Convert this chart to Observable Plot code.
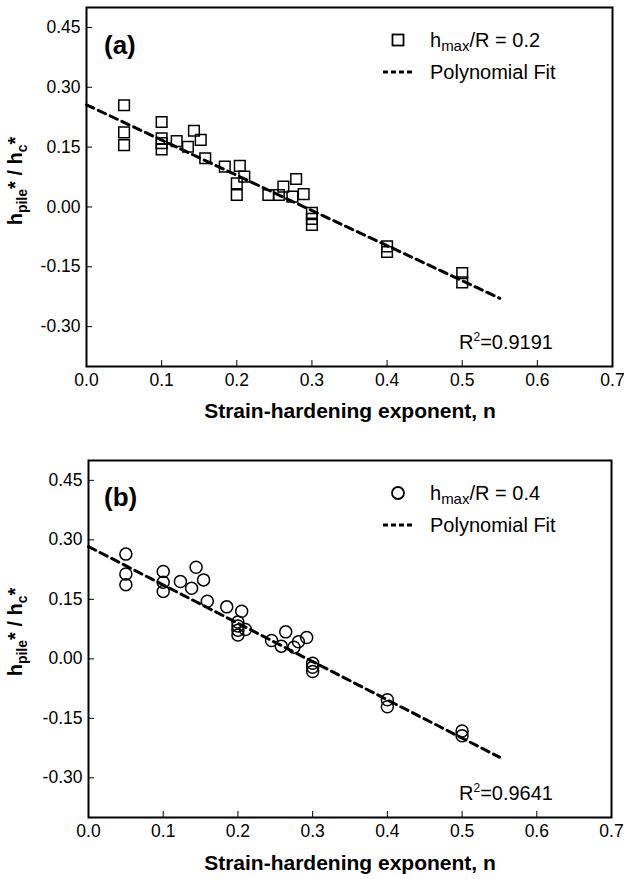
<!DOCTYPE html>
<html><head><meta charset="utf-8">
<script src="https://cdn.jsdelivr.net/npm/d3@7"></script>
<script src="https://cdn.jsdelivr.net/npm/@observablehq/plot@0.6"></script>
<style>
body{margin:0;background:#fff;}
#chart{width:624px;}
#chart svg{display:block;}
</style></head><body><div id="chart"></div>
<script>
const xTicks = [0, 0.1, 0.2, 0.3, 0.4, 0.5, 0.6, 0.7];
const yTicks = [-0.30, -0.15, 0.00, 0.15, 0.30, 0.45];

// Panel (a): hmax/R = 0.2
const nA = [0.05, 0.05, 0.05, 0.10, 0.10, 0.10, 0.10, 0.12, 0.135, 0.143, 0.152, 0.158, 0.184, 0.204, 0.21, 0.20, 0.20,
            0.242, 0.256, 0.262, 0.279, 0.274, 0.289, 0.30, 0.30, 0.30, 0.40, 0.40, 0.50, 0.50];
const vA = [0.255, 0.187, 0.155, 0.213, 0.172, 0.160, 0.144, 0.165, 0.151, 0.191, 0.168, 0.122, 0.101, 0.103, 0.076, 0.059, 0.030,
            0.030, 0.030, 0.051, 0.070, 0.026, 0.032, -0.015, -0.030, -0.045, -0.099, -0.113, -0.166, -0.189];
const fitNA = [0, 0.3, 0.55];
const fitVA = [0.256, -0.009, -0.229];

// Panel (b): hmax/R = 0.4
const nB = [0.05, 0.05, 0.05, 0.10, 0.10, 0.10, 0.123, 0.138, 0.144, 0.154, 0.159, 0.185, 0.205, 0.21, 0.20, 0.20, 0.20, 0.20,
            0.245, 0.258, 0.264, 0.275, 0.281, 0.292, 0.30, 0.30, 0.30, 0.40, 0.40, 0.50, 0.50];
const vB = [0.264, 0.214, 0.187, 0.220, 0.193, 0.170, 0.195, 0.178, 0.231, 0.199, 0.145, 0.131, 0.120, 0.074, 0.093, 0.083, 0.072, 0.060,
            0.046, 0.032, 0.068, 0.029, 0.043, 0.054, -0.011, -0.021, -0.032, -0.103, -0.121, -0.182, -0.194];
const fitNB = [0, 0.3, 0.55];
const fitVB = [0.283, -0.007, -0.248];

const FONT = "'Liberation Sans', Arial, Helvetica, sans-serif";

function panel(cfg) {
  const pts = cfg.n.map((n, i) => ({n, v: cfg.v[i]}));
  const fit = cfg.fitN.map((n, i) => ({n, v: cfg.fitV[i]}));
  const svg = Plot.plot({
    width: 624, height: cfg.height,
    marginLeft: cfg.ml, marginRight: cfg.mr, marginTop: cfg.mt, marginBottom: cfg.mb,
    style: {fontFamily: FONT, fontSize: "17.5px", color: "#000", background: "#fff", overflow: "visible"},
    x: {domain: [0, 0.7], ticks: xTicks, tickFormat: d => d.toFixed(1), tickSize: -6, tickPadding: 13, label: null},
    y: {domain: [-0.4, 0.5], ticks: yTicks, tickFormat: d => d.toFixed(2), tickSize: -6, tickPadding: 12, label: null},
    marks: [
      Plot.frame({stroke: "#000", strokeWidth: 2}),
      Plot.line(fit, {x: "n", y: "v", stroke: "#000", strokeWidth: 3, strokeDasharray: "8,5"}),
      Plot.dot(pts, {x: "n", y: "v", symbol: cfg.symbol, r: 6, stroke: "#000", strokeWidth: 1.5, fill: "none"})
    ]
  });
  const s = d3.select(svg);
  const g = s.append("g").attr("font-family", FONT).attr("fill", "#000").attr("text-anchor", "start");
  // x axis title
  g.append("text").attr("x", 350).attr("y", cfg.xTitleY).attr("text-anchor", "middle")
    .attr("font-weight", "bold").attr("font-size", 21).attr("dominant-baseline", "middle")
    .text("Strain-hardening exponent, n");
  // y axis title
  const yt = g.append("text").attr("transform", `translate(${cfg.yTitleX},${cfg.yTitleY}) rotate(-90)`)
    .attr("text-anchor", "middle").attr("font-weight", "bold").attr("font-size", 20);
  yt.append("tspan").text("h");
  yt.append("tspan").attr("font-size", 14).attr("dy", 5).text("pile");
  yt.append("tspan").attr("dy", -5).text("* / h");
  yt.append("tspan").attr("font-size", 14).attr("dy", 5).text("c");
  yt.append("tspan").attr("dy", -5).text("*");
  // panel label
  g.append("text").attr("x", 104).attr("y", cfg.labelY).attr("dominant-baseline", "middle")
    .attr("font-weight", "bold").attr("font-size", 26).text(cfg.label);
  // legend
  const lg = g.append("g").attr("font-size", 20);
  if (cfg.symbol === "square") {
    lg.append("rect").attr("x", 398 - 5.5).attr("y", cfg.legY - 5.5).attr("width", 11).attr("height", 11)
      .attr("fill", "none").attr("stroke", "#000").attr("stroke-width", 1.8);
  } else {
    lg.append("circle").attr("cx", 398).attr("cy", cfg.legY).attr("r", 6)
      .attr("fill", "none").attr("stroke", "#000").attr("stroke-width", 1.8);
  }
  const lt = lg.append("text").attr("x", 430).attr("y", cfg.legY + 7);
  lt.append("tspan").text("h");
  lt.append("tspan").attr("font-size", 15).attr("dy", 4).text("max");
  lt.append("tspan").attr("dy", -4).text(cfg.legText);
  lg.append("line").attr("x1", 383).attr("x2", 414).attr("y1", cfg.legY + 32).attr("y2", cfg.legY + 32)
    .attr("stroke", "#000").attr("stroke-width", 3).attr("stroke-dasharray", "5,3");
  lg.append("text").attr("x", 430).attr("y", cfg.legY + 39).text("Polynomial Fit");
  // R^2
  const rt = g.append("text").attr("x", 459).attr("y", cfg.r2Y).attr("font-size", 20);
  rt.append("tspan").text("R");
  rt.append("tspan").attr("font-size", 12).attr("dy", -8).text("2");
  rt.append("tspan").attr("dy", 8).text(cfg.r2);
  return svg;
}

const chart = document.getElementById("chart");
chart.appendChild(panel({
  n: nA, v: vA, fitN: fitNA, fitV: fitVA, symbol: "square",
  height: 440, ml: 86, mr: 12, mt: 7, mb: 74,
  xTitleY: 412, yTitleX: 22, yTitleY: 181, label: "(a)", labelY: 47,
  legY: 40, legText: "/R = 0.2", r2Y: 349, r2: "=0.9191"
}));
chart.appendChild(panel({
  n: nB, v: vB, fitN: fitNB, fitV: fitVB, symbol: "circle",
  height: 439, ml: 88, mr: 13, mt: 20, mb: 62,
  xTitleY: 424, yTitleX: 22, yTitleY: 192, label: "(b)", labelY: 59,
  legY: 53, legText: "/R = 0.4", r2Y: 360, r2: "=0.9641"
}));
</script></body></html>
